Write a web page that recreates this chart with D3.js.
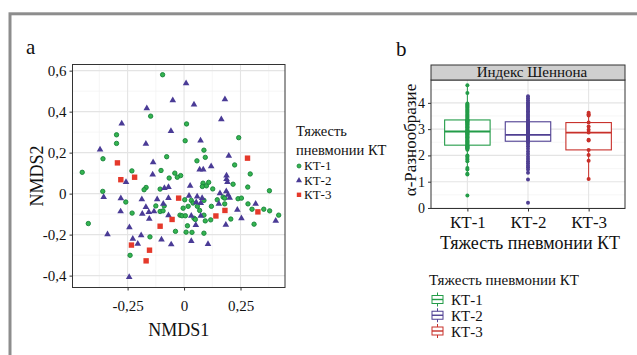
<!DOCTYPE html>
<html>
<head>
<meta charset="utf-8">
<script src="https://cdn.jsdelivr.net/npm/d3@7"></script>
<style>
  html, body { margin: 0; padding: 0; background: #fff; }
  svg { display: block; }
  text { font-family: "Liberation Serif", "Times New Roman", serif; fill: #111; }
</style>
</head>
<body>
<div id="chart"></div>
<script>
// ---- data ----
const groups = ["КТ-1", "КТ-2", "КТ-3"]
const legendTitle = "Тяжесть пневмонии КТ"

// panel a: NMDS ordination
const kt1X = [-0.095, -0.148, -0.299, -0.299, -0.359, -0.077, -0.451, -0.231, -0.102, -0.041,
  0.011, 0.242, 0.005, 0.088, 0.094, 0.057, 0.224, 0.293, -0.015, -0.066,
  -0.030, -0.360, -0.168, -0.177, -0.106, -0.088, -0.125, -0.106, -0.093, -0.230,
  -0.018, -0.424, -0.038, -0.151, -0.239, 0.084, 0.081, 0.099, 0.109, 0.127,
  0.217, 0.282, 0.378, 0.173, 0.003, 0.032, 0.040, 0.088, 0.121, 0.147,
  0.180, 0.180, 0.239, 0.254, 0.283, 0.301, 0.353, 0.379, 0.419, -0.004,
  0.018, 0.059, -0.009, 0.006, 0.044, 0.050, 0.088, 0.094, 0.118, 0.207,
  0.015, 0.009, 0.035, 0.088, 0.310, -0.258, 0.069]
const kt1Y = [0.580, 0.378, 0.287, 0.245, 0.170, 0.180, 0.104, 0.111, 0.113, 0.100,
  0.340, 0.273, 0.258, 0.212, 0.177, 0.160, 0.140, 0.096, 0.088, 0.076,
  0.080, 0.011, 0.030, 0.019, 0.022, -0.060, -0.060, -0.087, -0.084, -0.095,
  -0.105, -0.146, -0.184, -0.211, -0.301, 0.051, 0.035, 0.038, 0.055, 0.023,
  0.046, 0.032, 0.014, -0.017, -0.030, -0.033, -0.046, -0.033, -0.062, -0.030,
  -0.022, -0.050, -0.025, -0.022, -0.050, -0.076, -0.076, -0.084, -0.105, -0.071,
  -0.062, -0.062, -0.108, -0.108, -0.120, -0.126, -0.105, -0.133, -0.128, -0.124,
  -0.157, -0.188, -0.189, -0.193, -0.149, -0.041, -0.082]

const kt2X = [0.009, 0.181, -0.050, 0.044, -0.165, 0.165, -0.276, -0.058, 0.073, -0.169,
  -0.372, 0.198, -0.137, 0.120, 0.069, 0.085, -0.139, 0.188, -0.257, 0.188,
  0.192, -0.087, -0.069, 0.027, -0.356, -0.280, -0.187, -0.119, -0.069, -0.092,
  -0.281, -0.169, -0.185, -0.156, -0.133, -0.069, -0.154, -0.242, -0.339, -0.190,
  -0.227, -0.100, -0.205, -0.057, -0.243, 0.159, 0.187, 0.195, 0.202, 0.022,
  0.058, 0.080, 0.074, 0.054, 0.154, 0.317, 0.032, 0.074, 0.236, 0.254,
  0.052, 0.185, 0.406, 0.032, 0.106]
const kt2Y = [0.538, 0.460, 0.455, 0.435, 0.416, 0.363, 0.342, 0.305, 0.259, 0.243,
  0.215, 0.184, 0.153, 0.133, 0.117, 0.117, 0.093, 0.088, 0.056, 0.071,
  0.056, 0.027, 0.032, 0.038, -0.017, -0.023, -0.028, -0.028, -0.022, -0.050,
  -0.087, -0.066, -0.099, -0.090, -0.087, -0.106, -0.123, -0.165, -0.199, -0.204,
  -0.220, -0.224, -0.245, -0.248, -0.407, 0.002, 0.011, -0.006, -0.020, -0.011,
  -0.014, -0.022, -0.046, -0.043, -0.050, -0.050, -0.108, -0.108, -0.079, -0.121,
  -0.154, -0.152, -0.133, -0.232, -0.246]

const kt3X = [-0.295, 0.281, -0.219, -0.280, -0.024, -0.053, -0.106, -0.233, -0.153, -0.168, 0.141, 0.181, 0.327]
const kt3Y = [0.150, 0.173, 0.080, 0.068, -0.022, -0.126, -0.159, -0.251, -0.276, -0.328, -0.109, -0.082, -0.089]

const nmdsXTicks = [-0.25, 0, 0.25]
const nmdsYTicks = [-0.4, -0.2, 0, 0.2, 0.4, 0.6]

// panel b: Shannon index per group
const shannonKT1 = [0.47, 1.27, 1.30, 1.46, 1.52, 1.78, 1.84, 1.90, 1.96, 2.00,
  2.22, 2.25, 2.27, 2.29, 2.31, 2.33, 2.35, 2.37, 2.39, 2.42,
  2.46, 2.50, 2.54, 2.57, 2.60, 2.63, 2.66, 2.69, 2.72, 2.75,
  2.78, 2.81, 2.83, 2.85, 2.87, 2.89, 2.91, 2.93, 2.95, 2.98,
  3.01, 3.04, 3.07, 3.10, 3.13, 3.16, 3.19, 3.22, 3.25, 3.27,
  3.29, 3.31, 3.32, 3.34, 3.35, 3.38, 3.42, 3.46, 3.50, 3.54,
  3.58, 3.62, 3.66, 3.70, 3.74, 3.78, 3.82, 3.86, 3.90, 3.94,
  3.98, 4.38, 4.67]
const shannonKT2 = [0.20, 1.08, 1.34, 1.46, 1.55, 1.62, 1.70, 1.78, 1.86, 1.95,
  2.05, 2.15, 2.25, 2.35, 2.43, 2.50, 2.54, 2.56, 2.58, 2.60,
  2.62, 2.64, 2.66, 2.68, 2.69, 2.70, 2.72, 2.73, 2.74, 2.75,
  2.76, 2.77, 2.78, 2.80, 2.83, 2.86, 2.89, 2.92, 2.95, 2.98,
  3.01, 3.05, 3.09, 3.12, 3.15, 3.19, 3.22, 3.25, 3.28, 3.32,
  3.38, 3.44, 3.50, 3.56, 3.62, 3.68, 3.74, 3.80, 3.86, 3.92,
  3.97, 4.02, 4.10, 4.18, 4.25]
const shannonKT3 = [1.10, 1.80, 2.02, 2.21, 2.57, 2.60, 2.87, 2.98, 3.10, 3.25, 3.52, 3.57, 3.62]
const shannonTicks = [0, 1, 2, 3, 4]
const stripTitle = "Индекс Шеннона"

// ---- styling ----
const scatterColors = { fill: ["#34b44f", "#4a3b96", "#e5392b"], stroke: ["#17823a", "#3d2f85", "#c92a1e"] }
const boxColors = ["#239c48", "#4f3f92", "#c8302a"]
const gridMajor = "#e4e4e4"
const gridMinor = "#f2f2f2"
const borderColor = "#333"

const fmt = d3.formatLocale({ decimal: ",", thousands: " ", grouping: [3], currency: ["", ""], minus: "-" }).format("~g")

const svg = d3.select("#chart").append("svg")
  .attr("width", 637)
  .attr("height", 355)

svg.append("rect").attr("width", 637).attr("height", 355).attr("fill", "#fff")

// outer figure frame (only top/left edges fall inside the crop)
svg.append("rect")
  .attr("x", 10).attr("y", 13.8)
  .attr("width", 700).attr("height", 500)
  .attr("fill", "none")
  .attr("stroke", "#8d8d8d")
  .attr("stroke-width", 3)

svg.append("text").attr("x", 26).attr("y", 54).style("font-size", "21px").text("a")
svg.append("text").attr("x", 396).attr("y", 56).style("font-size", "21px").text("b")

// ===================== panel a =====================
const pa = { left: 72.5, right: 285, top: 64.5, bottom: 287.5 }
const xScale = d3.scaleLinear().domain([-0.494, 0.447]).range([pa.left, pa.right])
const yScale = d3.scaleLinear().domain([-0.458, 0.630]).range([pa.bottom, pa.top])

const gA = svg.append("g")

const minorX = [-0.375, -0.125, 0.125, 0.375]
const minorY = [-0.3, -0.1, 0.1, 0.3, 0.5]

gA.selectAll(".vminor").data(minorX).join("line")
  .attr("x1", d => xScale(d)).attr("x2", d => xScale(d))
  .attr("y1", pa.top).attr("y2", pa.bottom)
  .attr("stroke", gridMinor).attr("stroke-width", 0.7)
gA.selectAll(".hminor").data(minorY).join("line")
  .attr("y1", d => yScale(d)).attr("y2", d => yScale(d))
  .attr("x1", pa.left).attr("x2", pa.right)
  .attr("stroke", gridMinor).attr("stroke-width", 0.7)
gA.selectAll(".vmajor").data(nmdsXTicks).join("line")
  .attr("x1", d => xScale(d)).attr("x2", d => xScale(d))
  .attr("y1", pa.top).attr("y2", pa.bottom)
  .attr("stroke", gridMajor).attr("stroke-width", 1.1)
gA.selectAll(".hmajor").data(nmdsYTicks).join("line")
  .attr("y1", d => yScale(d)).attr("y2", d => yScale(d))
  .attr("x1", pa.left).attr("x2", pa.right)
  .attr("stroke", gridMajor).attr("stroke-width", 1.1)

const groupsA = [
  d3.zip(kt1X, kt1Y),
  d3.zip(kt2X, kt2Y),
  d3.zip(kt3X, kt3Y)
]

// KT-1 circles
gA.append("g").selectAll("circle").data(groupsA[0]).join("circle")
  .attr("cx", d => xScale(d[0]))
  .attr("cy", d => yScale(d[1]))
  .attr("r", 2.2)
  .attr("fill", scatterColors.fill[0])
  .attr("stroke", scatterColors.stroke[0])
  .attr("stroke-width", 0.9)

// KT-2 triangles
const tri = d3.symbol(d3.symbolTriangle).size(19)
gA.append("g").selectAll("path").data(groupsA[1]).join("path")
  .attr("d", tri)
  .attr("transform", d => `translate(${xScale(d[0])},${yScale(d[1])})`)
  .attr("fill", scatterColors.fill[1])

// KT-3 squares
gA.append("g").selectAll("rect").data(groupsA[2]).join("rect")
  .attr("x", d => xScale(d[0]) - 2.7)
  .attr("y", d => yScale(d[1]) - 2.7)
  .attr("width", 5.4).attr("height", 5.4)
  .attr("fill", scatterColors.fill[2])

gA.append("rect")
  .attr("x", pa.left).attr("y", pa.top)
  .attr("width", pa.right - pa.left).attr("height", pa.bottom - pa.top)
  .attr("fill", "none").attr("stroke", borderColor).attr("stroke-width", 1)

const yAxisA = gA.append("g")
  .attr("transform", `translate(${pa.left},0)`)
  .call(d3.axisLeft(yScale).tickValues(nmdsYTicks).tickSize(3).tickPadding(3).tickFormat(fmt))
const xAxisA = gA.append("g")
  .attr("transform", `translate(0,${pa.bottom})`)
  .call(d3.axisBottom(xScale).tickValues(nmdsXTicks).tickSize(3).tickPadding(10).tickFormat(fmt))
;[yAxisA, xAxisA].forEach(ax => {
  ax.select(".domain").remove()
  ax.selectAll(".tick line").attr("stroke", borderColor)
  ax.selectAll(".tick text").style("font-size", "15px").attr("fill", "#1a1a1a")
  ax.attr("font-family", null).attr("font-size", null)
})

gA.append("text")
  .attr("x", (pa.left + pa.right) / 2).attr("y", 336)
  .attr("text-anchor", "middle")
  .style("font-size", "18px")
  .text("NMDS1")
gA.append("text")
  .attr("transform", `translate(43,${(pa.top + pa.bottom) / 2}) rotate(-90)`)
  .attr("text-anchor", "middle")
  .style("font-size", "18px")
  .text("NMDS2")

// legend a
const legA = svg.append("g").attr("transform", "translate(296,0)")
legA.append("text").attr("x", 0).attr("y", 136).style("font-size", "14.5px").text("Тяжесть")
legA.append("text").attr("x", 0).attr("y", 155).style("font-size", "14.5px").text("пневмонии КТ")
const legAY = d3.scaleLinear().domain([0, 2]).range([166, 194.8])
legA.selectAll(".lab").data(groups).join("text")
  .attr("x", 8).attr("y", (d, i) => legAY(i) + 4.3)
  .style("font-size", "13px")
  .text(d => d)
legA.append("circle").attr("cx", 3).attr("cy", legAY(0)).attr("r", 2)
  .attr("fill", scatterColors.fill[0]).attr("stroke", scatterColors.stroke[0]).attr("stroke-width", 0.8)
legA.append("path").attr("d", d3.symbol(d3.symbolTriangle).size(16)())
  .attr("transform", `translate(3,${legAY(1)})`).attr("fill", scatterColors.fill[1])
legA.append("rect").attr("x", 0.8).attr("y", legAY(2) - 2.2).attr("width", 4.4).attr("height", 4.4)
  .attr("fill", scatterColors.fill[2])

// ===================== panel b =====================
const pb = { left: 431, right: 625, top: 80, bottom: 208.5, stripTop: 65 }
const bx = d3.scalePoint().domain(groups).range([pb.left, pb.right]).padding(0.6)
const by = d3.scaleLinear().domain([-0.02, 4.87]).range([pb.bottom, pb.top])
const gB = svg.append("g")

const minorB = [0.5, 1.5, 2.5, 3.5, 4.5]
gB.selectAll(".hminor").data(minorB).join("line")
  .attr("y1", d => by(d)).attr("y2", d => by(d))
  .attr("x1", pb.left).attr("x2", pb.right)
  .attr("stroke", gridMinor).attr("stroke-width", 0.7)
gB.selectAll(".hmajor").data(shannonTicks).join("line")
  .attr("y1", d => by(d)).attr("y2", d => by(d))
  .attr("x1", pb.left).attr("x2", pb.right)
  .attr("stroke", gridMajor).attr("stroke-width", 1.1)
gB.selectAll(".vmajor").data(groups).join("line")
  .attr("x1", d => bx(d)).attr("x2", d => bx(d))
  .attr("y1", pb.top).attr("y2", pb.bottom)
  .attr("stroke", gridMajor).attr("stroke-width", 1.1)

const shannon = [shannonKT1, shannonKT2, shannonKT3]
const boxW = bx.step() * 0.75

function boxStats(values) {
  const s = values.slice().sort(d3.ascending)
  const q1 = d3.quantile(s, 0.25), med = d3.quantile(s, 0.5), q3 = d3.quantile(s, 0.75)
  const iqr = q3 - q1
  const lo = d3.min(s.filter(v => v >= q1 - 1.5 * iqr))
  const hi = d3.max(s.filter(v => v <= q3 + 1.5 * iqr))
  return { q1, med, q3, lo, hi }
}

groups.forEach((g, i) => {
  const st = boxStats(shannon[i])
  const cx = bx(g)
  const col = boxColors[i]
  const grp = gB.append("g")
  grp.append("line").attr("x1", cx).attr("x2", cx).attr("y1", by(st.hi)).attr("y2", by(st.q3))
    .attr("stroke", col).attr("stroke-width", 1)
  grp.append("line").attr("x1", cx).attr("x2", cx).attr("y1", by(st.q1)).attr("y2", by(st.lo))
    .attr("stroke", col).attr("stroke-width", 1)
  grp.append("rect")
    .attr("x", cx - boxW / 2).attr("width", boxW)
    .attr("y", by(st.q3)).attr("height", by(st.q1) - by(st.q3))
    .attr("fill", "#fff").attr("stroke", col).attr("stroke-width", 1.1)
  grp.append("line").attr("x1", cx - boxW / 2).attr("x2", cx + boxW / 2)
    .attr("y1", by(st.med)).attr("y2", by(st.med))
    .attr("stroke", col).attr("stroke-width", 1.8)
  grp.selectAll("circle").data(shannon[i]).join("circle")
    .attr("cx", cx).attr("cy", d => by(d)).attr("r", 2)
    .attr("fill", col)
})

gB.append("rect")
  .attr("x", pb.left).attr("y", pb.top)
  .attr("width", pb.right - pb.left).attr("height", pb.bottom - pb.top)
  .attr("fill", "none").attr("stroke", borderColor).attr("stroke-width", 1)

// facet strip
gB.append("rect")
  .attr("x", pb.left).attr("y", pb.stripTop)
  .attr("width", pb.right - pb.left).attr("height", pb.top - pb.stripTop)
  .attr("fill", "#cfcfcf").attr("stroke", borderColor).attr("stroke-width", 1)
gB.append("text")
  .attr("x", (pb.left + pb.right) / 2 + 4).attr("y", 77.3)
  .attr("text-anchor", "middle")
  .style("font-size", "15px")
  .text(stripTitle)

const yAxisB = gB.append("g")
  .attr("transform", `translate(${pb.left},0)`)
  .call(d3.axisLeft(by).tickValues(shannonTicks).tickSize(3).tickPadding(3).tickFormat(d3.format("d")))
const xAxisB = gB.append("g")
  .attr("transform", `translate(0,${pb.bottom})`)
  .call(d3.axisBottom(bx).tickSize(3).tickPadding(4))
;[yAxisB, xAxisB].forEach(ax => {
  ax.select(".domain").remove()
  ax.selectAll(".tick line").attr("stroke", borderColor)
  ax.attr("font-family", null).attr("font-size", null)
})
yAxisB.selectAll(".tick text").style("font-size", "14px").attr("fill", "#1a1a1a")
xAxisB.selectAll(".tick text").style("font-size", "17px").attr("fill", "#1a1a1a")

gB.append("text")
  .attr("x", 530).attr("y", 249)
  .attr("text-anchor", "middle")
  .style("font-size", "18px")
  .text(legendTitle)
gB.append("text")
  .attr("transform", `translate(416,140) rotate(-90)`)
  .attr("text-anchor", "middle")
  .style("font-size", "17px")
  .text("α-Разнообразие")

// legend b
const legB = svg.append("g")
legB.append("text").attr("x", 429).attr("y", 285).style("font-size", "15px").text(legendTitle)
const legBY = d3.scaleLinear().domain([0, 2]).range([299.5, 331])
groups.forEach((g, i) => {
  const cy = legBY(i)
  const col = boxColors[i]
  const k = legB.append("g").attr("transform", `translate(437.5,${cy})`)
  k.append("line").attr("x1", 0).attr("x2", 0).attr("y1", -7).attr("y2", 7).attr("stroke", col).attr("stroke-width", 1)
  k.append("rect").attr("x", -5.5).attr("y", -4).attr("width", 11).attr("height", 8)
    .attr("fill", "#fff").attr("stroke", col).attr("stroke-width", 1)
  k.append("line").attr("x1", -5.5).attr("x2", 5.5).attr("y1", 0).attr("y2", 0).attr("stroke", col).attr("stroke-width", 1.4)
  legB.append("text").attr("x", 451).attr("y", cy + 5.5).style("font-size", "15px").text(g)
})
</script>
</body>
</html>
